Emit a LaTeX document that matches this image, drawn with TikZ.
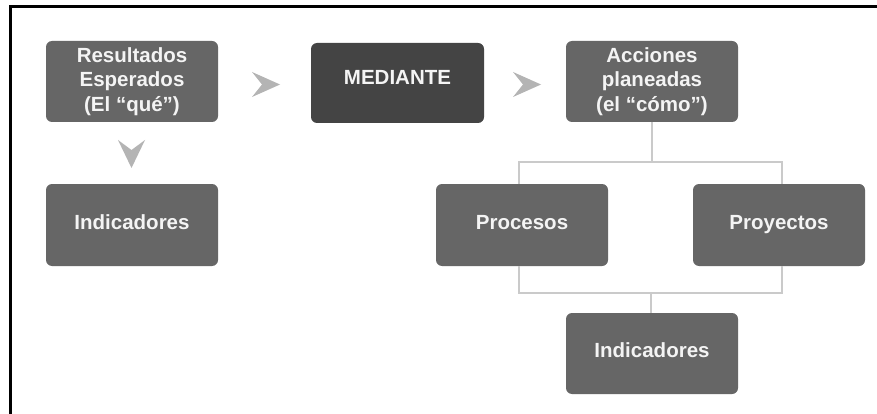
\documentclass[tikz,border=0pt]{standalone}
\usepackage{fontspec}
\setmainfont{Liberation Sans}
\begin{document}
\begin{tikzpicture}[x=1pt,y=-1pt,
  box/.style={draw=none, fill=boxgrey, rounded corners=6pt, minimum width=172pt,
    minimum height=81pt, inner sep=0pt, align=center, text=boxtext,
    font=\fontsize{20.5}{24.5}\selectfont\bfseries},
  dark/.style={fill=boxdark},
  raised/.style={text depth=#1},
  conn/.style={draw=linegrey, line width=1.3pt},
  chev/.style={fill=chevgrey}]
\definecolor{boxgrey}{HTML}{666666}
\definecolor{boxdark}{HTML}{444444}
\definecolor{boxtext}{HTML}{F4F4F4}
\definecolor{linegrey}{HTML}{CACACA}
\definecolor{chevgrey}{HTML}{B4B4B4}

\useasboundingbox (0,0) rectangle (877,414);
\fill[white] (0,0) rectangle (877,414);

% frame: top and left edges only
\draw[line width=2.6pt, black] (10.7,414) -- (10.7,6.6) -- (877,6.6);

% boxes
\node[box] (res) at (132,81.5) {Resultados\\Esperados\\(El “qué”)};
\node[box, dark, raised=12pt, minimum width=173pt, minimum height=80pt] (med) at (397.5,83) {MEDIANTE};
\node[box] (acc) at (652,81.5) {Acciones\\planeadas\\(el “cómo”)};
\node[box, raised=6pt, minimum height=82pt] (ind1) at (132,225) {Indicadores};
\node[box, raised=6pt, minimum height=82pt] (proc) at (522,225) {Procesos};
\node[box, raised=6pt, minimum height=82pt] (proy) at (779,225) {Proyectos};
\node[box, raised=6pt] (ind2) at (652,353.5) {Indicadores};

% chevrons between boxes
\fill[chev] (252,72) -- (280,84.5) -- (252,97) -- (262,84.5) -- cycle;
\fill[chev] (513,72) -- (541,84.5) -- (513,97) -- (523,84.5) -- cycle;
\fill[chev] (118,140) -- (131.5,168) -- (145,140) -- (131.5,150) -- cycle;

% tree connectors
\coordinate (top) at (652,162);
\coordinate (bot) at (651,293);
\draw[conn] (acc.south) -- (top);
\draw[conn] ([xshift=-3pt]proc.north) |- (top) -| ([xshift=3pt]proy.north);
\draw[conn] ([xshift=-3pt]proc.south) |- (bot) -| ([xshift=3pt]proy.south);
\draw[conn] (bot) -- (bot |- ind2.north);
\end{tikzpicture}
\end{document}
